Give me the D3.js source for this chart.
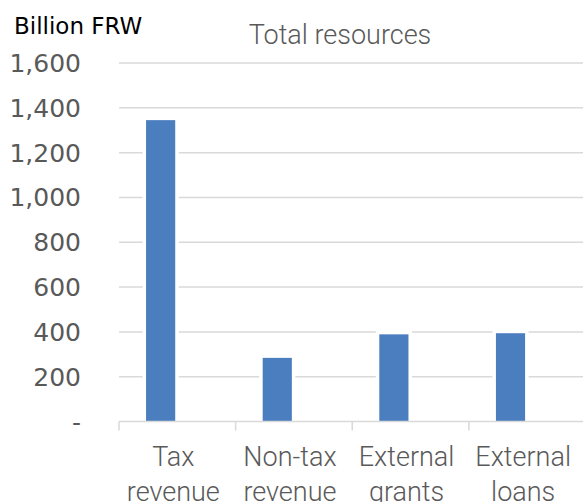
<!DOCTYPE html>
<html>
<head>
<meta charset="utf-8">
<script src="https://cdn.jsdelivr.net/npm/d3@7"></script>
<style>
  body { margin: 0; background: #fff; }
  svg { display: block; }
</style>
</head>
<body>
<svg id="chart" width="583" height="502"></svg>
<script>
// data (billion FRW)
let categories = [["Tax", "revenue"], ["Non-tax", "revenue"], ["External", "grants"], ["External", "loans"]]
let values = [1345, 284, 389, 394]
let yTicks = [0, 200, 400, 600, 800, 1000, 1200, 1400, 1600]

let svg = d3.select("#chart")
let plotLeft = 119, plotRight = 585.5, plotTop = 63, plotBottom = 421.5

let x = d3.scaleBand()
  .domain(categories.map(c => c.join(" ")))
  .range([plotLeft, plotRight])

let y = d3.scaleLinear()
  .domain([0, 1600])
  .range([plotBottom, plotTop])

let fmt = d => d === 0 ? "-" : d3.format(",")(d)

// gridlines
svg.append("g")
  .selectAll("line")
  .data(yTicks.filter(d => d > 0))
  .enter()
  .append("line")
  .attr("x1", plotLeft)
  .attr("x2", 583)
  .attr("y1", d => y(d))
  .attr("y2", d => y(d))
  .attr("stroke", "#d9d9d9")
  .attr("stroke-width", 1.5)

// y labels
svg.append("g")
  .selectAll("text")
  .data(yTicks)
  .enter()
  .append("text")
  .attr("x", 81)
  .attr("y", d => y(d) + 9)
  .attr("text-anchor", "end")
  .attr("font-family", "DejaVu Sans")
  .attr("font-size", 25)
  .attr("fill", "#595959")
  .text(fmt)

// bars: first slot of an excel style cluster, white border hides the grid
let bw = x.bandwidth()
let barX = i => x(x.domain()[i]) + bw * 0.232
let barW = bw * 0.25
let bars = svg.append("g")
bars.selectAll("rect.halo")
  .data(values)
  .enter()
  .append("rect")
  .attr("class", "halo")
  .attr("x", (d, i) => barX(i) - 3.5)
  .attr("y", d => y(d) - 3.5)
  .attr("width", barW + 7)
  .attr("height", d => plotBottom - y(d) + 3.5)
  .attr("fill", "#fff")
bars.selectAll("rect.bar")
  .data(values)
  .enter()
  .append("rect")
  .attr("class", "bar")
  .attr("x", (d, i) => barX(i))
  .attr("y", d => y(d))
  .attr("width", barW)
  .attr("height", d => plotBottom - y(d))
  .attr("fill", "#4a7ebf")

// x axis line and ticks
let axis = svg.append("g").attr("stroke", "#d9d9d9").attr("stroke-width", 1.5)
axis.append("line")
  .attr("x1", plotLeft).attr("x2", 583)
  .attr("y1", plotBottom).attr("y2", plotBottom)
axis.selectAll("line.tick")
  .data(x.domain())
  .enter()
  .append("line")
  .attr("class", "tick")
  .attr("x1", d => x(d)).attr("x2", d => x(d))
  .attr("y1", plotBottom).attr("y2", plotBottom + 9)

// category labels, two lines
let labels = svg.append("g")
  .selectAll("text")
  .data(categories)
  .enter()
  .append("text")
  .attr("text-anchor", "middle")
  .attr("font-family", "Roboto")
  .attr("font-weight", 300)
  .attr("font-size", 27)
  .attr("fill", "#595959")
labels.selectAll("tspan")
  .data(d => d.map(t => ({ t: t, key: d.join(" ") })))
  .enter()
  .append("tspan")
  .attr("x", d => x(d.key) + bw / 2 - 4)
  .attr("y", (d, i) => 465.5 + i * 35.5)
  .text(d => d.t)

// unit and title
svg.append("text")
  .attr("x", 14)
  .attr("y", 34)
  .attr("font-family", "DejaVu Sans")
  .attr("font-size", 23)
  .attr("fill", "#000")
  .text("Billion FRW")

svg.append("text")
  .attr("x", 340)
  .attr("y", 44)
  .attr("text-anchor", "middle")
  .attr("font-family", "Roboto")
  .attr("font-weight", 300)
  .attr("font-size", 27)
  .attr("fill", "#595959")
  .text("Total resources")
</script>
</body>
</html>
